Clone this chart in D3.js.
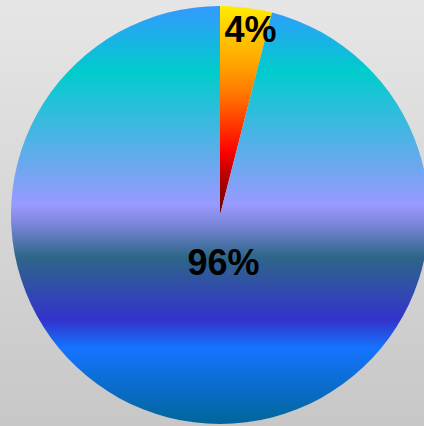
<!DOCTYPE html>
<html>
<head>
<meta charset="utf-8">
<script src="https://cdn.jsdelivr.net/npm/d3@7"></script>
<style>
  html, body { margin: 0; padding: 0; }
  body { width: 424px; height: 426px; overflow: hidden; }
  svg { display: block; }
</style>
</head>
<body>
<div id="chart"></div>
<script>
// Share of the whole, in percent
const categories = ["A", "B"];
const values = [4, 96];
const labels = ["4%", "96%"];

const width = 424, height = 426;
const cx = 220, cy = 215, radius = 209;

const svg = d3.select("#chart").append("svg")
  .attr("width", width)
  .attr("height", height);

const defs = svg.append("defs");

// Page background: soft grey fade
const bg = defs.append("linearGradient")
  .attr("id", "bg").attr("x1", 0).attr("y1", 0).attr("x2", 0).attr("y2", 1);
bg.append("stop").attr("offset", "0%").attr("stop-color", "#e6e6e6");
bg.append("stop").attr("offset", "100%").attr("stop-color", "#c7c7c7");

svg.append("rect").attr("width", width).attr("height", height).attr("fill", "url(#bg)");

// Slice fills: vertical gradients in the pie group's own coordinates
// (origin at the pie centre, y from -radius at the top to +radius at the bottom)
function vGrad(id, stops, y1, y2) {
  const g = defs.append("linearGradient")
    .attr("id", id)
    .attr("gradientUnits", "userSpaceOnUse")
    .attr("x1", 0).attr("x2", 0)
    .attr("y1", y1).attr("y2", y2);
  stops.forEach(([o, c]) => g.append("stop").attr("offset", o).attr("stop-color", c));
}

vGrad("fillSmall", [
  [0.00, "#ffee00"],
  [0.10, "#ffd000"],
  [0.26, "#ffaa00"],
  [0.42, "#ff7700"],
  [0.70, "#ff0000"],
  [0.78, "#cc0000"],
  [1.00, "#660000"]
], -radius, 0);

// stop positions given as page y, converted to 0..1 along the pie height
const pieTop = cy - radius, span = 2 * radius;
const at = y => (y - pieTop) / span;
vGrad("fillLarge", [
  [at(6),   "#3399ff"],
  [at(72),  "#00cccc"],
  [at(205), "#9999ff"],
  [at(222), "#7f88dd"],
  [at(257), "#2e6688"],
  [at(320), "#3333cc"],
  [at(348), "#1573ff"],
  [at(425), "#006699"]
], -radius, radius);

const fills = ["url(#fillSmall)", "url(#fillLarge)"];

const pie = d3.pie().sort(null).value(d => d);
const arcs = pie(values);
const arc = d3.arc().innerRadius(0).outerRadius(radius);

const g = svg.append("g").attr("transform", `translate(${cx},${cy})`);

g.selectAll("path.slice")
  .data(arcs)
  .join("path")
  .attr("class", "slice")
  .attr("d", arc)
  .attr("fill", (d, i) => fills[i]);

// Label anchor points (centre x, baseline y) relative to the pie centre
const labelPos = [[30.5, -173], [3.5, 60]];
g.selectAll("text.lbl")
  .data(arcs)
  .join("text")
  .attr("class", "lbl")
  .attr("x", (d, i) => labelPos[i][0])
  .attr("y", (d, i) => labelPos[i][1])
  .attr("text-anchor", "middle")
  .attr("font-family", "'Liberation Sans', Arial, sans-serif")
  .attr("font-weight", "bold")
  .attr("font-size", 36)
  .attr("fill", "#000")
  .text((d, i) => labels[i]);
</script>
</body>
</html>
